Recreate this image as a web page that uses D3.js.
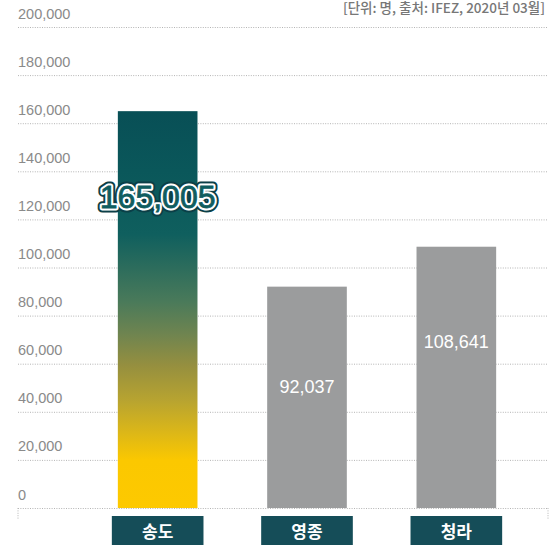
<!DOCTYPE html>
<html><head><meta charset="utf-8">
<script src="https://cdn.jsdelivr.net/npm/d3@7/dist/d3.min.js"></script>
<style>
html,body{margin:0;padding:0;background:#fff;}
svg{display:block;}
</style></head>
<body>
<svg id="c" width="552" height="545"></svg>
<script>
const categories = ["송도", "영종", "청라"];
const values = [165005, 92037, 108641];
const valueLabels = ["165,005", "92,037", "108,641"];
const yTicks = [0, 20000, 40000, 60000, 80000, 100000, 120000, 140000, 160000, 180000, 200000];
const sourceNote = "[단위: 명, 출처: IFEZ, 2020년 03월]";

(function(){
const svg = d3.select("#c");
const left = 18, right = 548, plotTop = 27, bottom = 508;

const y = d3.scaleLinear().domain([0, 200000]).range([bottom, plotTop]);
const x = d3.scaleBand().domain(categories).range([82, 532]).paddingInner(0.4667).paddingOuter(0.24);

const defs = svg.append("defs");
const g = defs.append("linearGradient").attr("id","grad").attr("x1",0).attr("y1",0).attr("x2",0).attr("y2",1);
[[0,"#084f56"],[0.15,"#0a575a"],[0.31,"#0f5f5e"],[0.48,"#4a7a5a"],[0.56,"#6e8450"],[0.64,"#958f3f"],[0.73,"#b8a430"],[0.81,"#dcb718"],[0.88,"#fbc800"],[1,"#fdc900"]]
  .forEach(([o,c]) => g.append("stop").attr("offset",o).attr("stop-color",c));

// source note
svg.append("text").attr("x", 545).attr("y", 13).attr("text-anchor","end")
  .attr("font-family","'Noto Sans CJK KR', sans-serif").attr("font-weight",500).attr("font-size",13.5).attr("fill","#777")
  .text(sourceNote);

// gridlines + tick labels via axis
const axis = d3.axisLeft(y).tickValues(yTicks).tickSize(0).tickFormat(d3.format(","));
const ax = svg.append("g").attr("transform", `translate(${left},0)`).call(axis);
ax.select(".domain").remove();
ax.selectAll(".tick line").attr("x1",0).attr("x2",right-left)
  .attr("stroke","#b4b4b4").attr("stroke-dasharray","1,1.4").attr("stroke-width",1);
ax.selectAll(".tick text").attr("x", 0).attr("dy","-9").attr("text-anchor","start")
  .attr("font-family","'Liberation Sans', Arial, sans-serif").attr("font-size",14.5).attr("fill","#8a8a8a");

// bottom axis end ticks
[left, right].forEach(xx => svg.append("line").attr("x1",xx).attr("x2",xx).attr("y1",bottom).attr("y2",bottom+12)
  .attr("stroke","#b5b5b5").attr("stroke-dasharray","1,1.4"));

// bars
svg.selectAll("rect.bar").data(values).enter().append("rect").attr("class","bar")
  .attr("x",(d,i)=>x(categories[i])).attr("width",x.bandwidth())
  .attr("y",d=>y(d)).attr("height",d=>bottom-y(d))
  .attr("fill",(d,i)=> i===0 ? "url(#grad)" : "#9b9c9d");

// category boxes
const boxPad = 6;
categories.forEach((c,i)=>{
  svg.append("rect").attr("x", x(c)-boxPad).attr("y", 516).attr("width", x.bandwidth()+2*boxPad).attr("height", 32)
    .attr("fill","#154d58");
  svg.append("text").attr("x", x(c)+x.bandwidth()/2).attr("y", 538).attr("text-anchor","middle")
    .attr("font-family","'Noto Sans CJK KR', sans-serif").attr("font-weight",700).attr("font-size",17).attr("fill","#fff")
    .text(c);
});

// value labels
const cx = i => x(categories[i]) + x.bandwidth()/2;
const big = svg.append("g").attr("font-family","'Liberation Sans', Arial, sans-serif").attr("font-size",32).attr("text-anchor","middle");
const by = y(values[0]) + 97;
big.append("text").attr("x",cx(0)).attr("y",by).attr("stroke","#0b3f47").attr("stroke-width",9).attr("stroke-linejoin","round").attr("fill","#0b3f47").text(valueLabels[0]);
big.append("text").attr("x",cx(0)).attr("y",by).attr("stroke","#fff").attr("stroke-width",5).attr("stroke-linejoin","round").attr("fill","#fff").text(valueLabels[0]);
big.append("text").attr("x",cx(0)).attr("y",by).attr("stroke","#0f5d5f").attr("stroke-width",0.8).attr("fill","#0f5d5f").text(valueLabels[0]);

[1,2].forEach(i=>{
  svg.append("text").attr("x",cx(i)).attr("y", y(values[i]) + (i===1 ? 106 : 101)).attr("text-anchor","middle")
    .attr("font-family","'Liberation Sans', Arial, sans-serif").attr("font-size",18).attr("fill","#fff")
    .text(valueLabels[i]);
});
})();
</script>
</body></html>
